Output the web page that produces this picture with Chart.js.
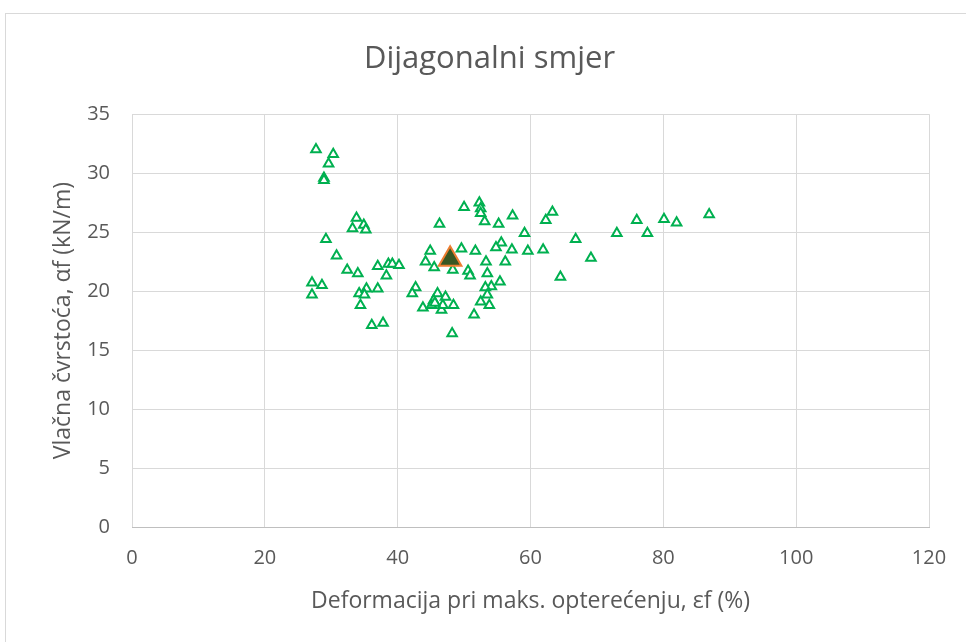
<!DOCTYPE html>
<html>
<head>
<meta charset="utf-8">
<script src="https://cdn.jsdelivr.net/npm/chart.js@4.4.1/dist/chart.umd.min.js"></script>
<style>
  html, body { margin: 0; padding: 0; background: #ffffff; }
  #wrap { width: 966px; height: 642px; position: relative; }
</style>
</head>
<body>
<div id="wrap"><canvas id="c" width="966" height="642"></canvas></div>
<script>
// Deformation at max load, εf (%)
const strainValues = [
  27.7, 30.3, 29.6, 28.9, 28.9, 33.8, 33.2, 34.9, 35.2, 29.2,
  30.8, 32.4, 34.0, 37.0, 38.3, 38.6, 39.2, 40.2, 27.1, 28.6,
  27.1, 34.2, 35.3, 35.0, 37.0, 34.4, 36.1, 37.8, 44.9, 44.2,
  45.5, 49.6, 48.3, 42.7, 42.2, 46.0, 45.4, 43.8, 47.2, 46.6,
  48.4, 48.2, 45.1, 46.8, 50.0, 46.3, 52.3, 52.5, 52.5, 53.1,
  55.2, 57.3, 59.1, 62.3, 63.3, 66.8, 69.1, 64.5, 61.9, 59.6,
  57.2, 55.6, 54.8, 56.2, 51.7, 50.6, 50.9, 53.3, 53.5, 55.4,
  54.1, 53.2, 53.5, 52.5, 53.8, 51.5, 73.0, 76.0, 77.6, 80.1,
  82.0, 86.9, 45.6
];
// Tensile strength, αf (kN/m)
const strengthValues = [
  32.0, 31.6, 30.8, 29.6, 29.4, 26.2, 25.3, 25.6, 25.2, 24.4,
  23.0, 21.8, 21.5, 22.1, 21.3, 22.3, 22.3, 22.2, 20.7, 20.5,
  19.7, 19.8, 20.2, 19.7, 20.2, 18.8, 17.1, 17.3, 23.4, 22.5,
  22.0, 23.6, 21.8, 20.3, 19.8, 19.8, 19.2, 18.6, 19.5, 18.4,
  18.8, 16.4, 18.8, 18.8, 27.1, 25.7, 27.5, 27.0, 26.6, 25.9,
  25.7, 26.4, 24.9, 26.0, 26.7, 24.4, 22.8, 21.2, 23.5, 23.4,
  23.5, 24.1, 23.7, 22.5, 23.4, 21.7, 21.3, 22.5, 21.5, 20.8,
  20.4, 20.3, 19.7, 19.1, 18.8, 18.0, 24.9, 26.0, 24.9, 26.1,
  25.8, 26.5, 19.0
];
// Mean point
const meanStrain = [47.9];
const meanStrength = [22.7];

const xTicks = [0, 20, 40, 60, 80, 100, 120];
const yTicks = [0, 5, 10, 15, 20, 25, 30, 35];

const titleText = 'Dijagonalni smjer';
const xTitle = 'Deformacija pri maks. opterećenju, εf (%)';
const yTitle = 'Vlačna čvrstoća, αf (kN/m)';

const toPoints = (xs, ys) => xs.map((x, i) => ({ x: x, y: ys[i] }));

const FONT = "'Open Sans', 'Liberation Sans', sans-serif";
const TEXT = '#595959';
const GRID = '#d9d9d9';

const frame = {
  id: 'frame',
  beforeDraw(chart) {
    const ctx = chart.ctx;
    ctx.save();
    ctx.fillStyle = '#ffffff';
    ctx.fillRect(0, 0, chart.width, chart.height);
    ctx.strokeStyle = '#d9d9d9';
    ctx.lineWidth = 1;
    ctx.strokeRect(5.5, 13.5, chart.width + 20, chart.height + 20);
    ctx.restore();
  }
};

new Chart(document.getElementById('c'), {
  type: 'scatter',
  data: {
    datasets: [
      {
        label: 'Srednja vrijednost',
        data: toPoints(meanStrain, meanStrength),
        pointStyle: 'triangle',
        pointRadius: 13,
        pointHoverRadius: 13,
        backgroundColor: '#385723',
        borderColor: '#ED7D31',
        pointBorderWidth: 2
      },
      {
        label: 'Uzorci',
        data: toPoints(strainValues, strengthValues),
        pointStyle: 'triangle',
        pointRadius: 5.5,
        pointHoverRadius: 5.5,
        backgroundColor: '#ffffff',
        borderColor: '#00B050',
        pointBorderWidth: 2
      }
    ]
  },
  options: {
    responsive: false,
    animation: false,
    layout: { padding: { left: 50, right: 37, top: 0, bottom: 27 } },
    plugins: {
      legend: { display: false },
      tooltip: { enabled: false },
      title: {
        display: true,
        text: titleText,
        color: TEXT,
        font: { family: FONT, size: 31, weight: 'normal', lineHeight: 1.2 },
        padding: { top: 41, bottom: 36 }
      }
    },
    scales: {
      x: {
        type: 'linear',
        min: 0,
        max: 120,
        afterBuildTicks(scale) { scale.ticks = xTicks.map(v => ({ value: v })); },
        afterFit(scale) { scale.height = 88; },
        grid: { color: GRID, lineWidth: 1, drawTicks: false },
        border: { display: true, color: '#bfbfbf', width: 1 },
        ticks: { color: TEXT, padding: 19, font: { family: FONT, size: 20 }, maxRotation: 0 },
        title: {
          display: true,
          text: xTitle,
          color: TEXT,
          font: { family: FONT, size: 23, lineHeight: 1.2 },
          padding: 0
        }
      },
      y: {
        type: 'linear',
        min: 0,
        max: 35,
        afterBuildTicks(scale) { scale.ticks = yTicks.map(v => ({ value: v })); },
        afterFit(scale) { scale.width = 82; },
        grid: { color: GRID, lineWidth: 1, drawTicks: false },
        border: { display: false },
        ticks: { color: TEXT, padding: 22, font: { family: FONT, size: 20 } },
        title: {
          display: true,
          text: yTitle,
          color: TEXT,
          font: { family: FONT, size: 23, lineHeight: 1.2 },
          padding: 0
        }
      }
    }
  },
  plugins: [frame]
});
</script>
</body>
</html>
